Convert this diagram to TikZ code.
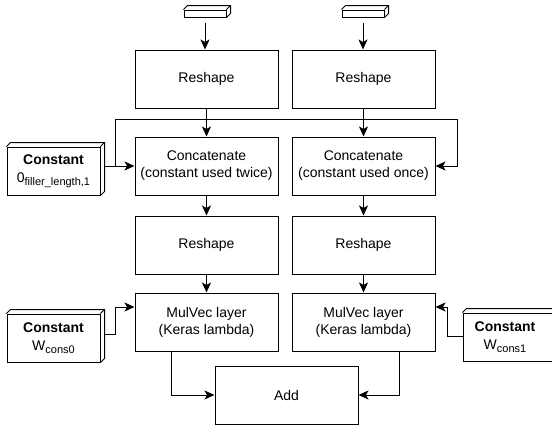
\documentclass[tikz,border=0pt]{standalone}
\usepackage{fontspec}
\setmainfont{Liberation Sans}
\usetikzlibrary{arrows.meta,calc}
\newcommand{\cubedepth}[2]{%
  \draw[cubeline] (#1.north west) -- ++(#2,-#2) -| ($(#1.south east)+(#2,-#2)$) -- (#1.south east);
  \draw[cubeline] (#1.north east) -- ++(#2,-#2);}
\newcommand{\subtxt}[1]{\raisebox{-3.5pt}{\fontsize{11}{11}\selectfont #1}}
\begin{document}
\begin{tikzpicture}[x=1pt,y=-1pt,
  stdfont/.style={font=\fontsize{14}{17}\selectfont},
  layerbox/.style={draw, line width=1pt, minimum width=143pt, minimum height=58pt,
    inner sep=0pt, align=center, stdfont},
  constbox/.style={draw, line width=1pt, minimum width=93pt, minimum height=48pt,
    inner sep=0pt, align=center, stdfont},
  inbox/.style={draw, line width=1pt, minimum width=42pt, minimum height=7pt, inner sep=0pt},
  cubeline/.style={line width=1pt},
  arr/.style={line width=1pt, -{Stealth[length=10pt,width=9pt,inset=2.5pt]}}]
\useasboundingbox (0,0) rectangle (552,426);
\clip (0,0) rectangle (552,426);

% inputs
\node[inbox] (in1) at (205,13.5) {};
\node[inbox] (in2) at (363,13.5) {};
\cubedepth{in1}{4}
\cubedepth{in2}{4}

% layer boxes
\node[layerbox] (reshape1) at (206.5,79) {Reshape};
\node[layerbox] (reshape2) at (363.5,79) {Reshape};
\node[layerbox] (concat1) at (206.5,166) {Concatenate\\(constant used twice)};
\node[layerbox] (concat2) at (363.5,166) {Concatenate\\(constant used once)};
\node[layerbox] (reshapeB1) at (206.5,245) {Reshape};
\node[layerbox] (reshapeB2) at (363.5,245) {Reshape};
\node[layerbox] (mul1) at (206.5,322) {MulVec layer\\(Keras lambda)};
\node[layerbox] (mul2) at (363.5,322) {MulVec layer\\(Keras lambda)};
\node[layerbox] (add) at (286.5,395) {Add};

% constants
\node[constbox] (const0) at (53.5,171) {\textbf{Constant}\\[1pt]0\subtxt{filler\_length,1}};
\cubedepth{const0}{4}
\node[constbox] (constW0) at (53.5,338) {\textbf{Constant}\\[1pt]W\subtxt{cons0}};
\cubedepth{constW0}{4}
\node[constbox] (constW1) at (509.5,337) {};
\cubedepth{constW1}{4}
\node[align=center, stdfont, inner sep=0pt] (constW1text) at (505,337) {\textbf{Constant}\\[1pt]W\subtxt{cons1}};

% connectors
\draw[arr] ([yshift=-5pt]in1.south) -- (in1.south |- reshape1.north);
\draw[arr] ([yshift=-5pt]in2.south) -- (in2.south |- reshape2.north);
\draw[arr] (reshape1) -- (concat1);
\draw[arr] (reshape2) -- (concat2);

\coordinate (j1) at (115,166);
\coordinate (b1) at (115,119);
\coordinate (b2) at (457,119);
\draw[arr] ($(const0.east |- concat1.west)+(4,0)$) -- (concat1.west);
\draw[arr] (j1) -- (b1) -- (b2) |- (concat2.east);

\draw[arr] (concat1) -- (reshapeB1);
\draw[arr] (concat2) -- (reshapeB2);
\draw[arr] (reshapeB1) -- (mul1);
\draw[arr] (reshapeB2) -- (mul2);

\coordinate (k1) at (115,307);
\coordinate (k2) at (447,307);
\draw[arr] ($(constW0.east)+(4,-4)$) -| (k1) -- (k1 -| mul1.west);
\draw[arr] ($(constW1.west)+(0,-1)$) -| (k2) -- (k2 -| mul2.east);

\draw[arr] ($(mul1.south)+(-35.5,0)$) |- (add.west);
\draw[arr] ($(mul2.south)+(35.5,0)$) |- (add.east);
\end{tikzpicture}
\end{document}
